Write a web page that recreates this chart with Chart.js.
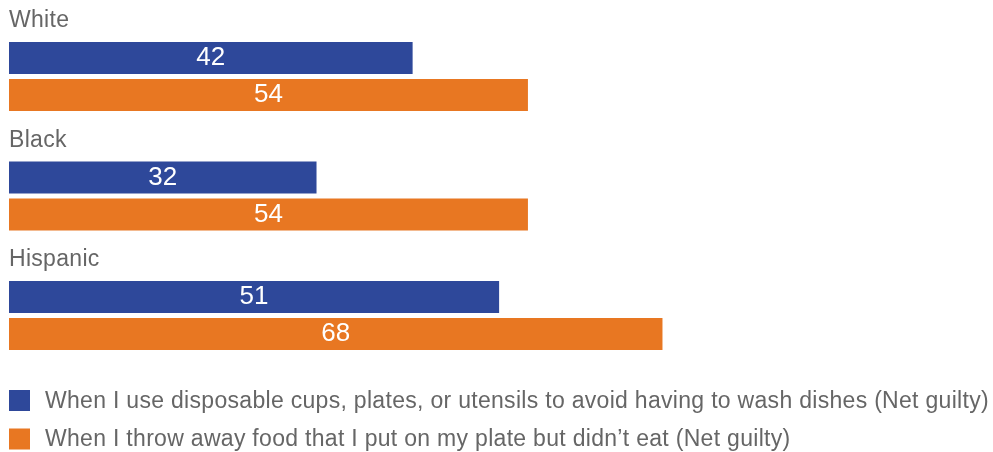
<!DOCTYPE html>
<html>
<head>
<meta charset="utf-8">
<script src="https://cdn.jsdelivr.net/npm/chart.js@4"></script>
<style>
  html, body { margin: 0; padding: 0; background: #fff; }
  #wrap { width: 993px; height: 452px; }
</style>
</head>
<body>
<div id="wrap"><canvas id="guiltChart" width="993" height="452"></canvas></div>
<script>
const groups = ['White', 'Black', 'Hispanic'];
const disposableGuilty = [42, 32, 51];
const foodWasteGuilty = [54, 54, 68];
const seriesNames = [
    'When I use disposable cups, plates, or utensils to avoid having to wash dishes (Net guilty)',
    'When I throw away food that I put on my plate but didn\u2019t eat (Net guilty)'
];

const FONT = '"Liberation Sans", Arial, Helvetica, sans-serif';
const GRAY = '#666666';

// group names sit above each pair of bars, values in the middle of the bar
const labelsPlugin = {
    id: 'labels',
    afterDatasetsDraw(chart) {
        const ctx = chart.ctx;
        const y = chart.scales.y;
        ctx.save();
        ctx.textBaseline = 'middle';
        ctx.fillStyle = GRAY;
        ctx.font = '23px ' + FONT;
        ctx.letterSpacing = '0.3px';
        ctx.textAlign = 'left';
        groups.forEach((g, i) => {
            ctx.fillText(g, chart.chartArea.left, y.getPixelForValue(i) - 55.5);
        });
        ctx.letterSpacing = '0px';
        ctx.fillStyle = '#ffffff';
        ctx.font = '26px ' + FONT;
        ctx.textAlign = 'center';
        chart.data.datasets.forEach((ds, di) => {
            chart.getDatasetMeta(di).data.forEach((bar, i) => {
                ctx.fillText(String(ds.data[i]), (bar.base + bar.x) / 2, bar.y);
            });
        });
        ctx.restore();
    }
};

// stacked legend, left aligned under the bars
const legendPlugin = {
    id: 'stackLegend',
    afterDraw(chart) {
        const ctx = chart.ctx;
        ctx.save();
        ctx.textBaseline = 'middle';
        ctx.textAlign = 'left';
        ctx.font = '23px ' + FONT;
        ctx.letterSpacing = '0.3px';
        chart.data.datasets.forEach((ds, i) => {
            const cy = 400.5 + i * 38.5;
            ctx.fillStyle = ds.backgroundColor;
            ctx.fillRect(9, cy - 10.5, 21, 21);
            ctx.fillStyle = GRAY;
            ctx.fillText(ds.label, 45, cy + 1);
        });
        ctx.restore();
    }
};

new Chart(document.getElementById('guiltChart'), {
    type: 'bar',
    data: {
        labels: groups,
        datasets: [
            { label: seriesNames[0], data: disposableGuilty, backgroundColor: '#2e489a' },
            { label: seriesNames[1], data: foodWasteGuilty, backgroundColor: '#e87722' }
        ]
    },
    options: {
        indexAxis: 'y',
        responsive: false,
        animation: false,
        categoryPercentage: 0.619,
        barPercentage: 0.8649,
        layout: { padding: { top: 16.75, bottom: 76.75, left: 9, right: 23 } },
        plugins: {
            legend: { display: false },
            tooltip: { enabled: false }
        },
        scales: {
            x: { display: false, min: 0, max: 100 },
            y: { display: false }
        }
    },
    plugins: [labelsPlugin, legendPlugin]
});
</script>
</body>
</html>
